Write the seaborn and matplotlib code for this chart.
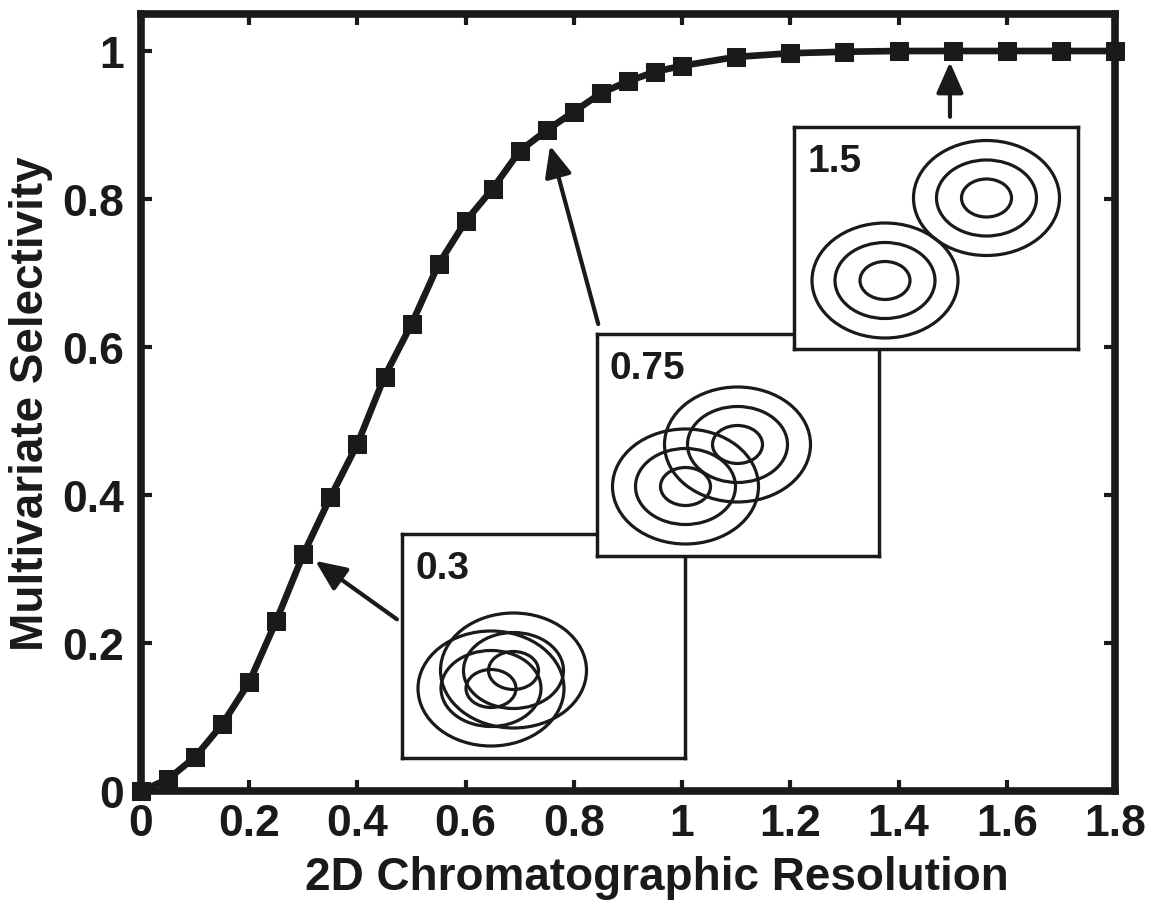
import matplotlib
matplotlib.use('Agg')
import matplotlib.pyplot as plt
import pandas as pd
import seaborn as sns
from matplotlib.patches import Ellipse
from matplotlib.ticker import FuncFormatter

# main curve: selectivity vs 2D resolution
resolution = [0, 0.05, 0.1, 0.15, 0.2, 0.25, 0.3, 0.35, 0.4, 0.45, 0.5, 0.55, 0.6,
              0.65, 0.7, 0.75, 0.8, 0.85, 0.9, 0.95, 1.0, 1.1, 1.2, 1.3, 1.4, 1.5,
              1.6, 1.7, 1.8]
selectivity = [0.0, 0.016, 0.046, 0.09, 0.147, 0.23, 0.32, 0.397, 0.469, 0.56, 0.631,
               0.712, 0.77, 0.814, 0.865, 0.893, 0.918, 0.943, 0.959, 0.972, 0.980,
               0.992, 0.997, 0.999, 1.0, 1.0, 1.0, 1.0, 1.0]
xticks = [0, 0.2, 0.4, 0.6, 0.8, 1.0, 1.2, 1.4, 1.6, 1.8]
yticks = [0, 0.2, 0.4, 0.6, 0.8, 1.0]

# inset contour plots (peak centres in inset units, 3 contour rings per peak)
inset_labels = ['0.3', '0.75', '1.5']
peak1_x = [0.89, 0.885, 0.91]
peak1_y = [0.695, 0.695, 0.685]
peak2_x = [1.115, 1.405, 1.925]
peak2_y = [0.875, 1.115, 1.51]
ring_w = [0.50, 1.00, 1.46]
ring_h = [0.38, 0.76, 1.15]

df = pd.DataFrame({'res': resolution, 'sel': selectivity})

sns.set_theme(style='ticks')
plt.rcParams['font.family'] = ['Liberation Sans', 'DejaVu Sans']
plt.rcParams['font.weight'] = 'bold'
plt.rcParams['text.color'] = 'k'
plt.rcParams['axes.labelcolor'] = 'k'

fig = plt.figure(figsize=(11.54, 9.03), dpi=100)
ax = fig.add_axes([141/1154, 1 - 792/903, 974/1154, 777/903])

sns.lineplot(data=df, x='res', y='sel', ax=ax, color='k', lw=4.8, marker='s',
             markersize=12.5, markeredgecolor='k', clip_on=False, zorder=5)

ax.set_xlim(0, 1.8)
ax.set_ylim(0, 1.05)
ax.set_xticks(xticks)
ax.set_yticks(yticks)
fmt = FuncFormatter(lambda v, p: f'{v:g}')
ax.xaxis.set_major_formatter(fmt)
ax.yaxis.set_major_formatter(fmt)
ax.tick_params(direction='in', length=8, width=3, top=True, right=True,
               labelsize=32, color='k', labelcolor='k')
ax.tick_params(axis='x', pad=9)
ax.tick_params(axis='y', pad=12)
for lab in ax.get_xticklabels() + ax.get_yticklabels():
    lab.set_fontweight('bold')
for s in ax.spines.values():
    s.set_linewidth(5.5)
    s.set_color('k')

ax.set_xlabel('2D Chromatographic Resolution', fontsize=33, fontweight='bold')
ax.set_ylabel('Multivariate Selectivity', fontsize=33, fontweight='bold')
ax.xaxis.set_label_coords(0.53, -0.082)
ax.yaxis.set_label_coords(-0.09, 0.5)

# arrows from insets to curve points
arrow = dict(arrowstyle='-|>,head_length=0.75,head_width=0.33', lw=3, color='k',
             mutation_scale=25, shrinkA=0, shrinkB=0)
ax.annotate('', xy=(0.322, 0.311), xytext=(0.473, 0.232), arrowprops=arrow)
ax.annotate('', xy=(0.756, 0.872), xytext=(0.845, 0.631), arrowprops=arrow)
ax.annotate('', xy=(1.495, 0.985), xytext=(1.495, 0.911), arrowprops=arrow)

# inset boxes (pixel boxes: left, top, right, bottom)
boxes = [(402, 535, 685, 759), (597, 335, 879, 557), (794, 128, 1078, 350)]
for i, (l, t, r, b) in enumerate(boxes):
    iax = fig.add_axes([l/1154, 1 - b/903, (r - l)/1154, (b - t)/903])
    iax.set_xlim(0, (r - l)/100)
    iax.set_ylim(0, (b - t)/100)
    iax.set_xticks([])
    iax.set_yticks([])
    iax.set_facecolor('white')
    for s in iax.spines.values():
        s.set_linewidth(2.5)
        s.set_color('k')
    for cx, cy in [(peak1_x[i], peak1_y[i]), (peak2_x[i], peak2_y[i])]:
        for w, h in zip(ring_w, ring_h):
            iax.add_patch(Ellipse((cx, cy), w, h, fill=False, lw=2.3, ec='k'))
    iax.text(0.046, 0.93, inset_labels[i], transform=iax.transAxes, ha='left',
             va='top', fontsize=28, fontweight='bold', color='k')

fig.savefig('out.png', dpi=100)
